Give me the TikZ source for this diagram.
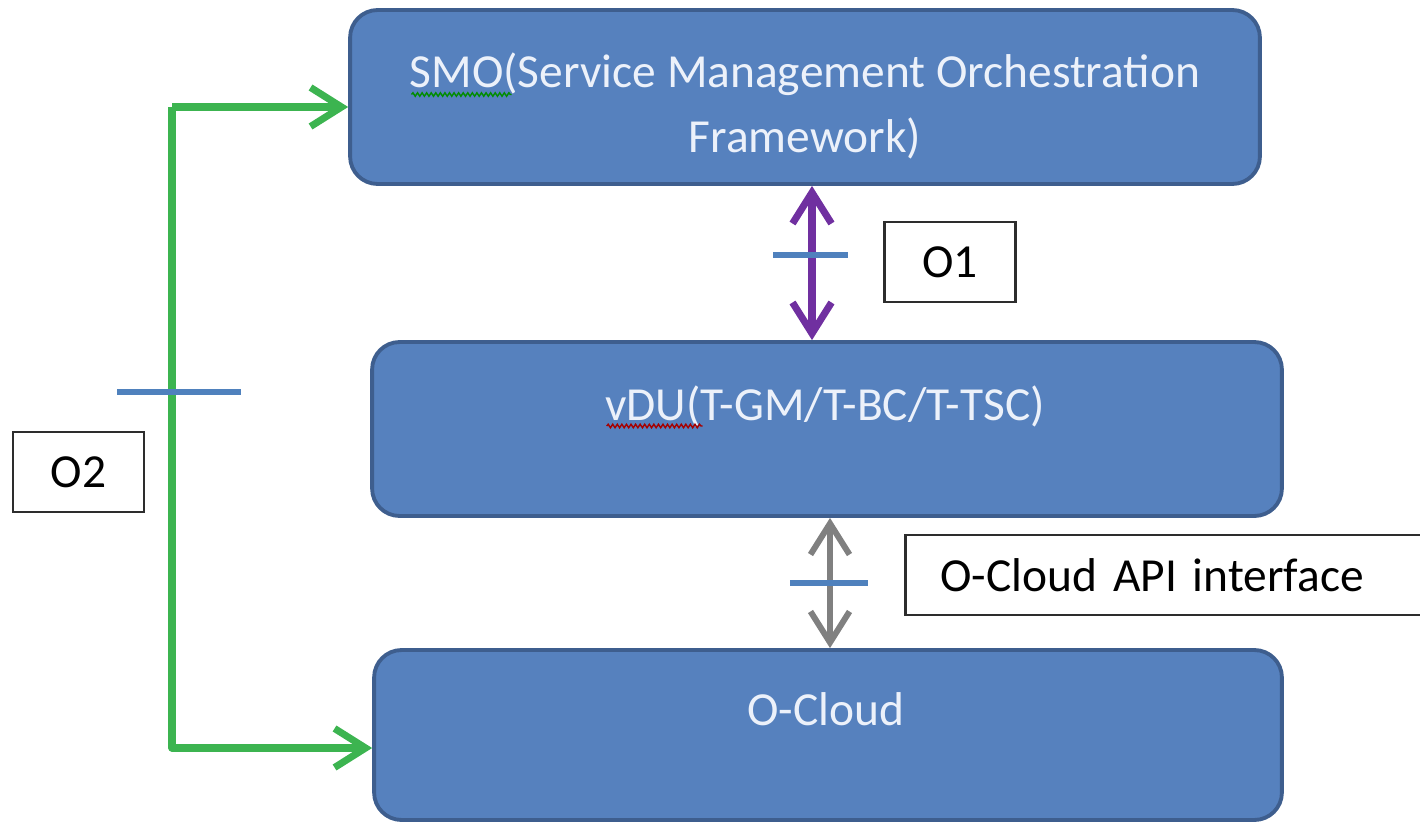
\documentclass[tikz,border=0pt]{standalone}
\usepackage{fontspec}
\setmainfont{Carlito}
\usepackage{tikz}
\usetikzlibrary{calc, positioning, arrows.meta, decorations.pathmorphing}
\usepackage{xcolor}
\definecolor{layerfill}{RGB}{86, 129, 190}
\definecolor{layeredge}{RGB}{62, 94, 142}
\definecolor{layerink}{RGB}{236, 241, 250}
\definecolor{tickblue}{RGB}{79, 129, 189}
\definecolor{ifpurple}{RGB}{112, 48, 160}
\definecolor{ifgreen}{RGB}{60, 180, 80}
\definecolor{ifgray}{RGB}{128, 128, 128}
\definecolor{tagedge}{RGB}{45, 45, 45}
\tikzset{
    layerbox/.style={rectangle, rounded corners=0.55cm, draw=layeredge, line width=2.2pt, fill=layerfill, minimum width=18.2cm, minimum height=3.48cm},
    layertext/.style={text=layerink, font=\fontsize{27}{37}\selectfont, align=center, inner sep=0pt},
    tagbox/.style={rectangle, draw=tagedge, line width=1.6pt, fill=white, minimum width=2.62cm, minimum height=1.6cm, font=\fontsize{27}{30}\selectfont, text=black},
    ifarrow/.style={{Straight Barb[length=0.62cm, width=0.78cm]}-{Straight Barb[length=0.62cm, width=0.78cm]}, line width=4pt},
    oneway/.style={-{Straight Barb[length=0.62cm, width=0.78cm]}, line width=4pt, draw=ifgreen, line join=round},
    tick/.style={draw=tickblue, line width=3.4pt},
    squiggle/.style={line width=0.8pt, decorate, decoration={snake, segment length=2.6pt, amplitude=1pt}}
}
\begin{document}
\begin{tikzpicture}[x=0.02cm, y=-0.02cm]
    \useasboundingbox (0,0) rectangle (1420,822);
    \clip (0,0) rectangle (1420,822);

    % the three layers
    \node[layerbox] (smo) at (805,97) {};
    \node[layerbox] (vdu) at (827,429) {};
    \node[layerbox, minimum width=18.16cm, minimum height=3.4cm] (ocloud) at (828,735) {};

    \node[layertext] (smolabel) at (805,106) {SMO(Service Management Orchestration\\Framework)};
    \node[layertext] (vdulabel) at (825,406) {vDU(T-GM/T-BC/T-TSC)};
    \node[layertext] (ocloudlabel) at (826,709) {O-Cloud};

    % spell-check marks under the labels
    \draw[squiggle, green!55!black] ([xshift=0.04cm, yshift=-0.84cm]smolabel.north west) -- ++(100,0);
    \draw[squiggle, red!65!black] ([xshift=0.04cm, yshift=0.02cm]vdulabel.south west) -- ++(96,0);

    % interface tags
    \node[tagbox] (o1) at (950,262) {O1};
    \node[tagbox] (o2) at (78.5,472) {O2};
    \node[tagbox, anchor=west, minimum width=12cm, text width=10.6cm, align=left] (api) at (904,575) {O-Cloud API interface};

    % O1 between SMO and vDU
    \coordinate (o1x) at (812,0);
    \draw[ifarrow, draw=ifpurple] (smo.south -| o1x) -- coordinate[pos=0.45] (o1mid) (vdu.north -| o1x);
    \draw[tick] ([xshift=-0.78cm]o1mid) -- ([xshift=0.72cm]o1mid);

    % O-Cloud API between vDU and O-Cloud
    \coordinate (apix) at (830,0);
    \draw[ifarrow, draw=ifgray, line width=3.4pt] (vdu.south -| apix) -- coordinate[pos=0.5] (apimid) (ocloud.north -| apix);
    \draw[tick] ([xshift=-0.8cm]apimid) -- ([xshift=0.76cm]apimid);

    % O2 from the left side
    \coordinate (o2x) at (172,0);
    \coordinate (o2top) at ([yshift=-0.2cm]smo.west);
    \coordinate (o2bot) at ([yshift=-0.26cm]ocloud.west);
    \draw[oneway] (o2top -| o2x) -- (o2top);
    \draw[oneway] (o2top -| o2x) -- coordinate[pos=0.445] (o2mid) (o2bot -| o2x) -- (o2bot);
    \draw[tick] ([xshift=-1.1cm]o2mid) -- ([xshift=1.38cm]o2mid);
\end{tikzpicture}
\end{document}
